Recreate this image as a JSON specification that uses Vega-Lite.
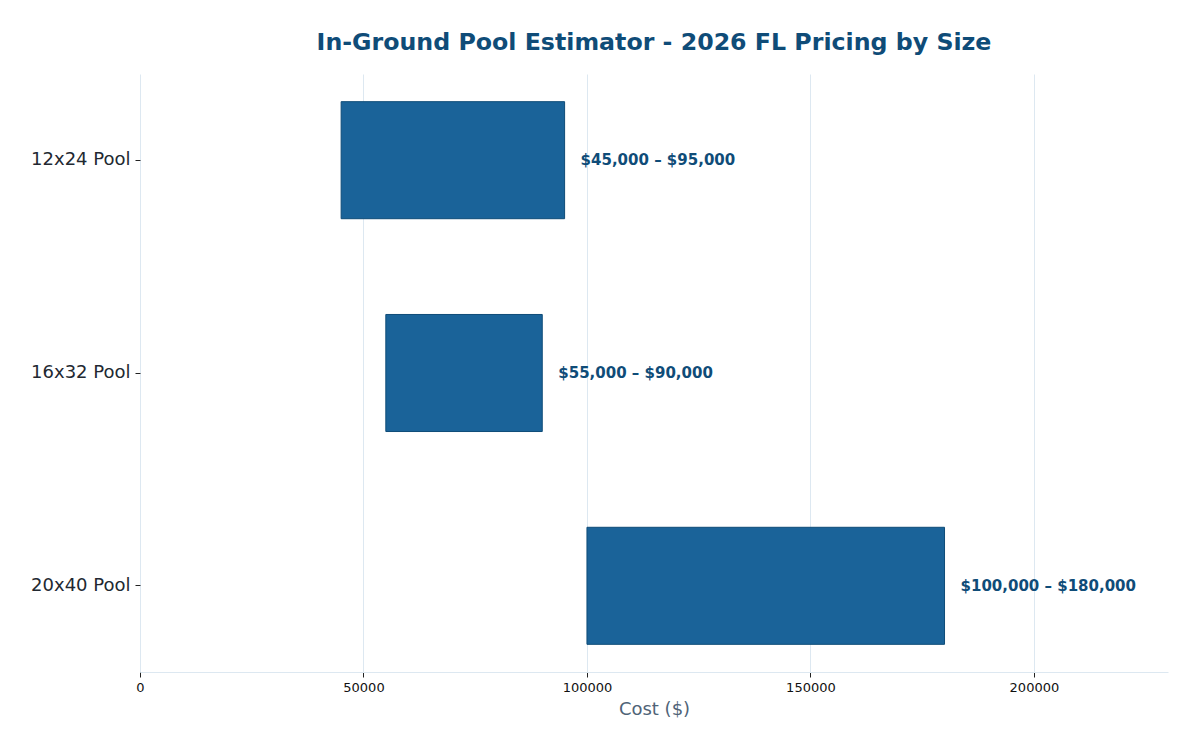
{
  "$schema": "https://vega.github.io/schema/vega-lite/v6.json",
  "width": 1028,
  "height": 598,
  "autosize": {"type": "none"},
  "padding": {"left": 140, "top": 74, "right": 32, "bottom": 78},
  "background": "white",
  "title": {
    "text": "In-Ground Pool Estimator - 2026 FL Pricing by Size",
    "font": "DejaVu Sans",
    "fontSize": 23.7,
    "fontWeight": "bold",
    "color": "#0f4c78",
    "anchor": "middle",
    "offset": 19
  },
  "data": {
    "values": [
      {"size": "12x24 Pool", "low": 45000, "high": 95000, "label": "$45,000 – $95,000"},
      {"size": "16x32 Pool", "low": 55000, "high": 90000, "label": "$55,000 – $90,000"},
      {"size": "20x40 Pool", "low": 100000, "high": 180000, "label": "$100,000 – $180,000"}
    ]
  },
  "config": {
    "view": {"stroke": null},
    "font": "DejaVu Sans"
  },
  "encoding": {
    "y": {
      "field": "size",
      "type": "nominal",
      "sort": null,
      "title": null,
      "scale": {"paddingInner": 0.45, "paddingOuter": 0.13},
      "axis": {
        "domain": false,
        "grid": false,
        "tickColor": "#222222",
        "tickSize": 5,
        "labelFontSize": 18,
        "labelColor": "#222831",
        "labelPadding": 5,
        "labelFont": "DejaVu Sans"
      }
    }
  },
  "layer": [
    {
      "mark": {"type": "bar", "color": "#1a6399", "stroke": "#0f4c78", "strokeWidth": 1},
      "encoding": {
        "x": {
          "field": "low",
          "type": "quantitative",
          "title": "Cost ($)",
          "scale": {"domain": [0, 230000], "nice": false},
          "axis": {
            "values": [0, 50000, 100000, 150000, 200000],
            "format": "d",
            "labelFlush": false,
            "gridColor": "#dde8f1",
            "domainColor": "#dde8f1",
            "tickColor": "#222222",
            "tickSize": 5,
            "labelFontSize": 13,
            "labelColor": "#111111",
            "labelPadding": 4,
            "titleFontSize": 18,
            "titleFontWeight": "normal",
            "titleColor": "#4f6377",
            "titlePadding": 6
          }
        },
        "x2": {"field": "high"}
      }
    },
    {
      "mark": {"type": "text", "align": "left", "baseline": "middle", "dx": 16, "fontSize": 15, "fontWeight": "bold", "color": "#0f4c78"},
      "encoding": {
        "x": {"field": "high", "type": "quantitative"},
        "text": {"field": "label"}
      }
    }
  ]
}
